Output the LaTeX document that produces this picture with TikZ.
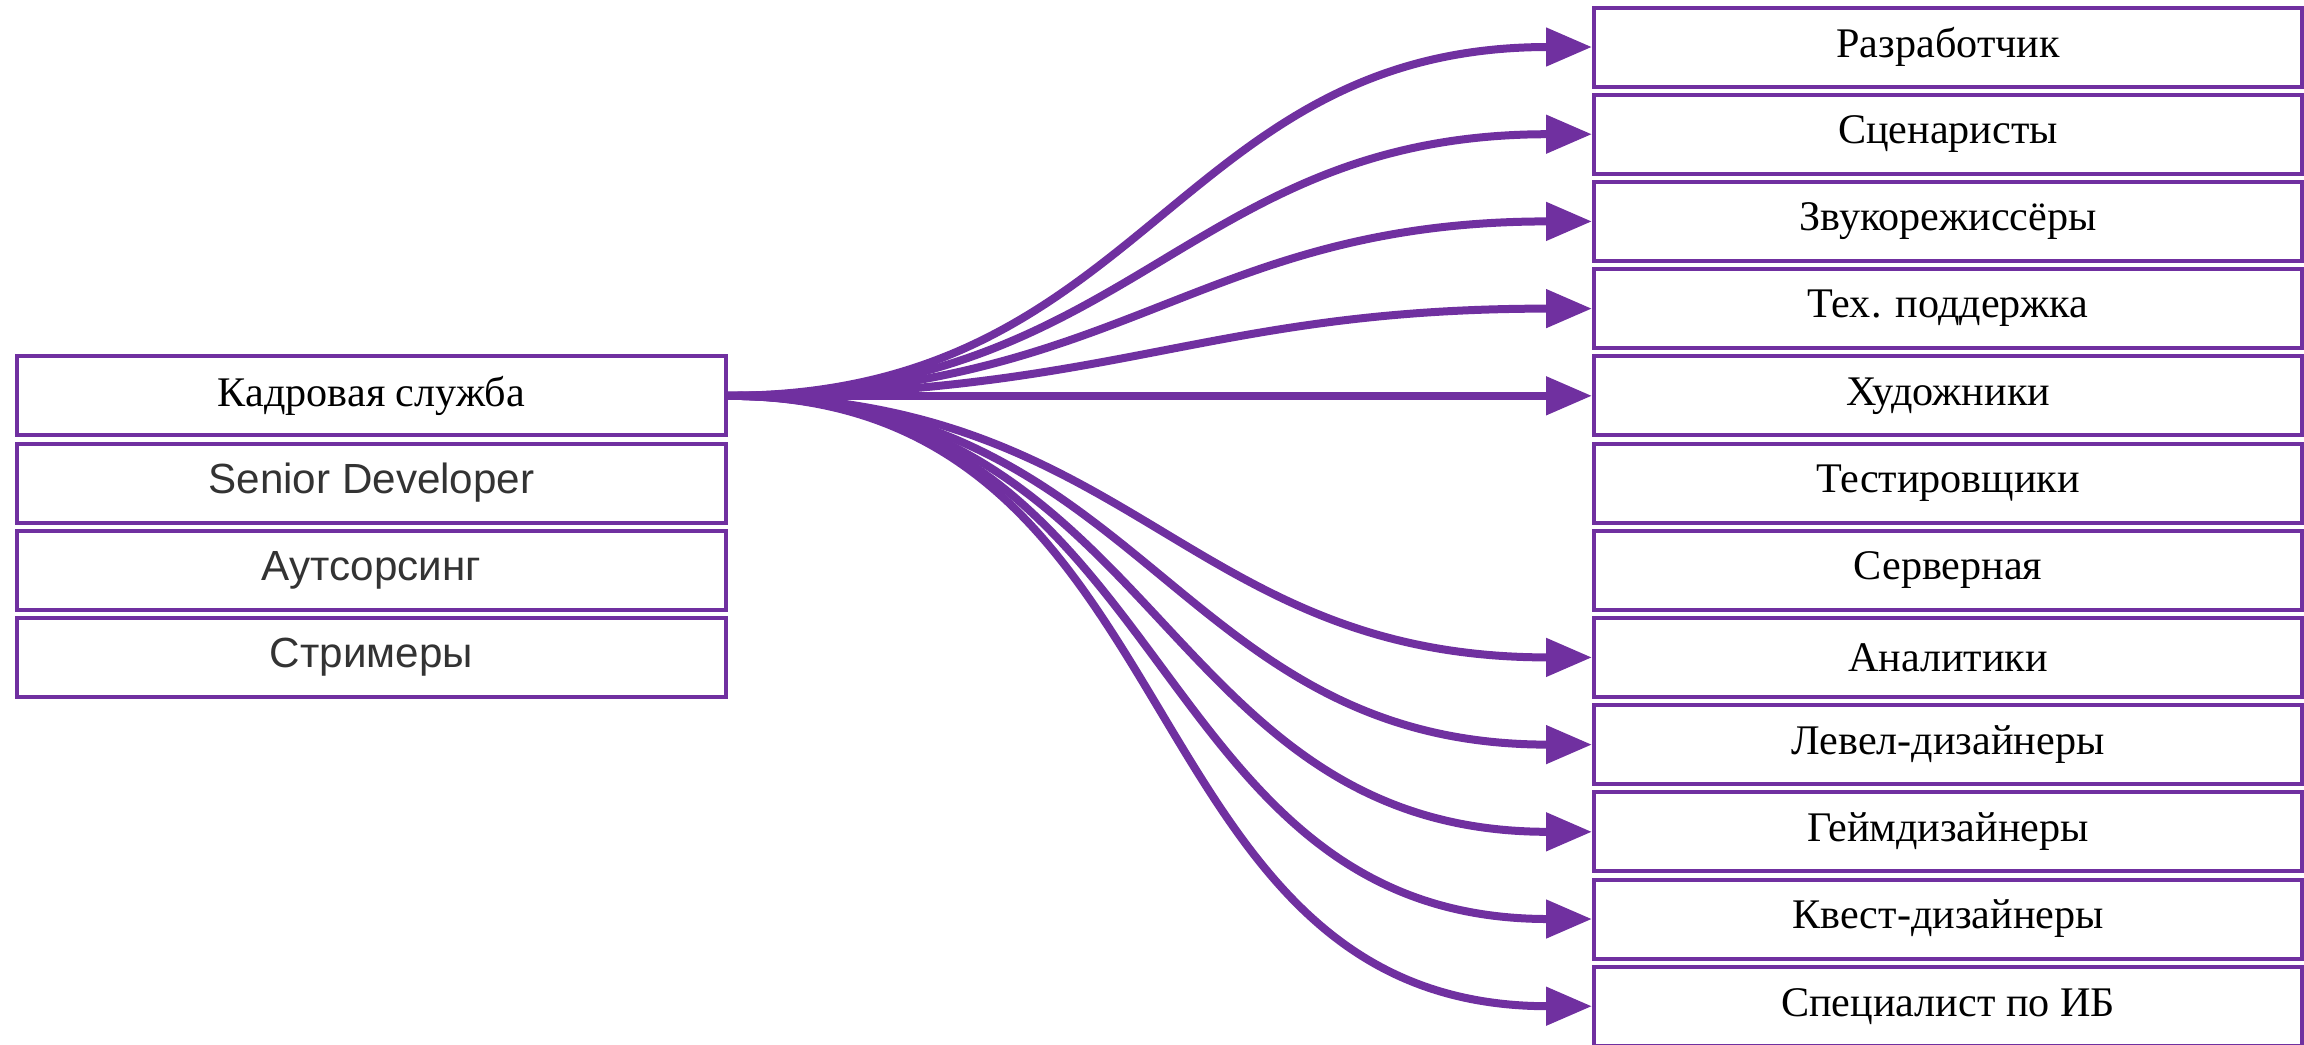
\documentclass[tikz,border=0pt]{standalone}
\usepackage{fontspec}
\setmainfont{Liberation Serif}
\newfontfamily\sansfont{Liberation Sans}
\usetikzlibrary{arrows.meta}
\definecolor{vio}{HTML}{7030A0}
\definecolor{txtgray}{HTML}{333333}
\begin{document}
\begin{tikzpicture}[
    box/.style={draw=vio, line width=0.04cm, minimum width=7.08cm,
      minimum height=0.79cm, inner sep=0pt,
      font=\fontsize{12pt}{14pt}\selectfont},
    sbox/.style={box, text=txtgray, font=\sansfont\fontsize{12pt}{14pt}\selectfont},
    link/.style={draw=vio, line width=0.08cm, out=0, in=180, looseness=1.15,
      -{Triangle[length=0.46cm, width=0.37cm]}}
  ]
  \useasboundingbox (0,0) rectangle (23.04,-10.44);
  \path
    (3.715,-3.958) node[box] (l0){Кадровая служба}
    (3.715,-4.830) node[sbox] (l1){Senior Developer}
    (3.715,-5.702) node[sbox] (l2){Аутсорсинг}
    (3.715,-6.574) node[sbox] (l3){Стримеры};
  \path
    (19.48,-0.470) node[box] (r0){Разработчик}
    (19.48,-1.342) node[box] (r1){Сценаристы}
    (19.48,-2.214) node[box] (r2){Звукорежиссёры}
    (19.48,-3.086) node[box] (r3){Тех. поддержка}
    (19.48,-3.958) node[box] (r4){Художники}
    (19.48,-4.830) node[box] (r5){Тестировщики}
    (19.48,-5.702) node[box] (r6){Серверная}
    (19.48,-6.574) node[box] (r7){Аналитики}
    (19.48,-7.446) node[box] (r8){Левел-дизайнеры}
    (19.48,-8.318) node[box] (r9){Геймдизайнеры}
    (19.48,-9.190) node[box] (r10){Квест-дизайнеры}
    (19.48,-10.062) node[box] (r11){Специалист по ИБ};
  \begin{scope}[link]
    \draw (l0) to (r0);
    \draw (l0) to (r1);
    \draw (l0) to (r2);
    \draw (l0) to (r3);
    \draw (l0) to (r4);
    \draw (l0) to (r7);
    \draw (l0) to (r8);
    \draw (l0) to (r9);
    \draw (l0) to (r10);
    \draw (l0) to (r11);
  \end{scope}
\end{tikzpicture}
\end{document}
